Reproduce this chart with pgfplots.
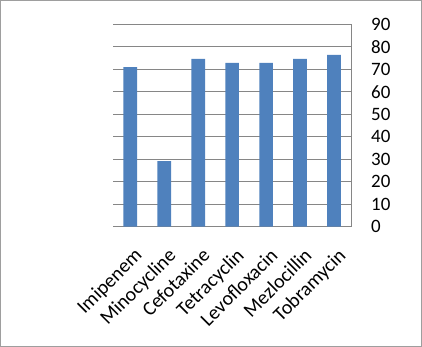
\documentclass[border=0pt]{standalone}
\usepackage{pgfplots}
\pgfplotsset{compat=1.18}
\usepackage{fontspec}
\setmainfont{Carlito}
\definecolor{barblue}{HTML}{4F81BD}
\definecolor{gridgray}{HTML}{868686}
\begin{document}
\begin{tikzpicture}
\path[use as bounding box] (-113.3bp,-120.3bp) rectangle (308.7bp,226.7bp);
\draw[color=gridgray!80, line width=1bp] (-112.8bp,-119.8bp) rectangle (308.2bp,226.2bp);
\begin{axis}[
  at={(0,0)}, anchor=south west,
  scale only axis,
  width=237.7bp, height=202.4bp,
  xmin=-0.5, xmax=6.5, ymin=0, ymax=90,
  axis line style={draw=none},
  ybar, bar width=13.7bp,
  ytick={0,10,...,90},
  xtick={0,...,6},
  xticklabels={Imipenem,Minocycline,Cefotaxine,Tetracyclin,Levofloxacin,Mezlocillin,Tobramycin},
  major tick length=0,
  ytick pos=right, yticklabel pos=right,
  xtick pos=bottom,
  ymajorgrids, grid style={draw=gridgray, line width=0.8bp},
  yticklabel style={anchor=west, xshift=20bp, inner sep=0pt, font=\fontsize{19}{21}\selectfont},
  xticklabel style={xshift=3bp, yshift=-20bp, rotate=45, anchor=north east, inner sep=0pt, font=\fontsize{20}{22}\selectfont},
  clip=false,
  /pgf/number format/assume math mode=true,
]
\addplot[fill=barblue, draw=none] coordinates {(0,71.0) (1,29.2) (2,74.6) (3,72.8) (4,72.8) (5,74.6) (6,76.4)};
\draw[gridgray, line width=0.8bp] (rel axis cs:1,0) -- (rel axis cs:1,1);
\end{axis}
\end{tikzpicture}
\end{document}
